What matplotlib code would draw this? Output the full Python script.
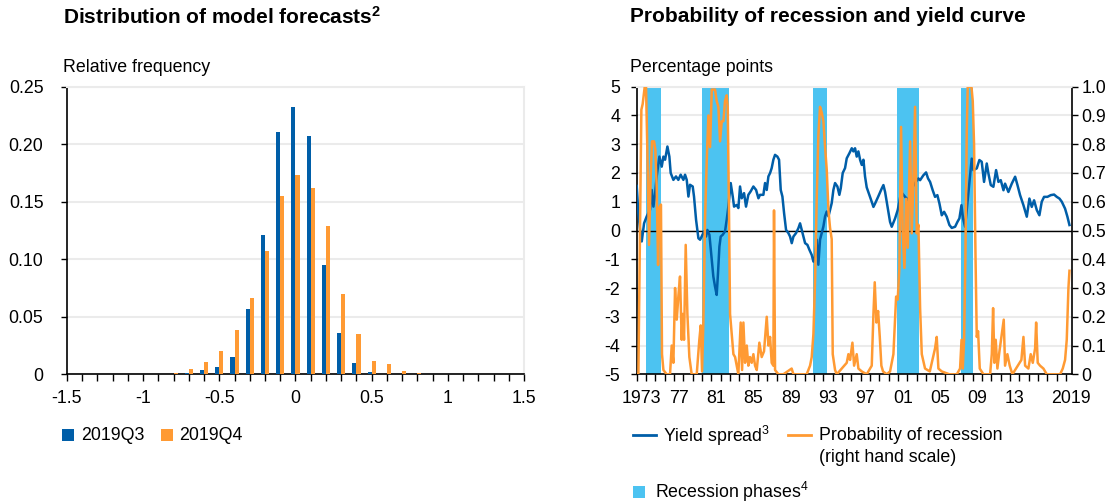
import matplotlib
matplotlib.use("Agg")
import matplotlib.pyplot as plt
from matplotlib.lines import Line2D
from matplotlib.patches import Rectangle
import numpy as np

plt.rcParams['font.family'] = ['Liberation Sans', 'DejaVu Sans']
plt.rcParams['mathtext.fontset'] = 'custom'
plt.rcParams['mathtext.rm'] = 'Liberation Sans'
plt.rcParams['mathtext.bf'] = 'Liberation Sans:bold'
plt.rcParams['mathtext.default'] = 'regular'

# ---- Left panel: distribution of model forecasts ----
forecast_bins = [-0.8, -0.7, -0.6, -0.5, -0.4, -0.3, -0.2, -0.1, 0.0,
                 0.1, 0.2, 0.3, 0.4, 0.5, 0.6, 0.7, 0.8]
freq_2019q3 = [0.0, 0.001, 0.004, 0.006, 0.015, 0.0565, 0.121, 0.211, 0.2326,
               0.207, 0.095, 0.0356, 0.0098, 0.0023, 0.0003, 0.0, 0.0]
freq_2019q4 = [0.0012, 0.0043, 0.011, 0.0206, 0.0388, 0.066, 0.107, 0.155, 0.173,
               0.162, 0.129, 0.070, 0.035, 0.0116, 0.0087, 0.0029, 0.001]
x_ticks_left = [-1.5, -1, -0.5, 0, 0.5, 1, 1.5]
x_labels_left = ['-1.5', '-1', '-0.5', '0', '0.5', '1', '1.5']
y_ticks_left = [0, 0.05, 0.10, 0.15, 0.20, 0.25]
y_labels_left = ['0', '0.05', '0.10', '0.15', '0.20', '0.25']

# ---- Right panel: yield spread and recession probability ----
spread_years = [
    1973.00, 1973.18, 1973.36, 1973.54, 1973.79, 1974.07, 1974.43, 1974.61, 1974.79, 1974.96,
    1975.14, 1975.43, 1975.68, 1975.86, 1976.04, 1976.29, 1976.50, 1976.64, 1976.93, 1977.21,
    1977.46, 1977.71, 1978.00, 1978.18, 1978.36, 1978.54, 1978.71, 1979.00, 1979.14, 1979.36,
    1979.61, 1979.79, 1979.96, 1980.21, 1980.43, 1980.57, 1980.79, 1981.04, 1981.21, 1981.39,
    1981.57, 1981.71, 1981.86, 1982.00, 1982.21, 1982.46, 1982.64, 1982.82, 1983.07, 1983.29,
    1983.43, 1983.71, 1983.89, 1984.07, 1984.25, 1984.50, 1984.71, 1984.96, 1985.21, 1985.50,
    1985.79, 1986.04, 1986.21, 1986.57, 1986.75, 1986.93, 1987.11, 1987.29, 1987.46, 1987.64,
    1987.82, 1988.07, 1988.25, 1988.43, 1988.61, 1988.79, 1989.00, 1989.25, 1989.43, 1989.61,
    1989.79, 1990.07, 1990.32, 1990.50, 1990.68, 1990.86, 1991.04, 1991.29, 1991.50, 1991.75,
    1991.93, 1992.11, 1992.29, 1992.46, 1992.64, 1992.82, 1993.00, 1993.18, 1993.36, 1993.54,
    1993.71, 1993.89, 1994.07, 1994.25, 1994.50, 1994.71, 1994.86, 1995.07, 1995.32, 1995.50,
    1995.79, 1996.04, 1996.21, 1996.39, 1996.57, 1996.75, 1996.93, 1997.11, 1997.29, 1997.46,
    1997.64, 1997.86, 1998.07, 1998.36, 1998.54, 1998.86, 1999.25, 1999.43, 1999.61, 1999.96,
    2000.14, 2000.32, 2000.68, 2000.96, 2001.14, 2001.32, 2001.75, 2002.11, 2002.30, 2002.70,
    2003.18, 2003.36, 2003.71, 2004.00, 2004.21, 2004.43, 2004.71, 2004.96, 2005.21, 2005.43,
    2005.68, 2005.93, 2006.21, 2006.50, 2006.75, 2007.11, 2007.36, 2007.57, 2007.79, 2007.96,
    2008.18, 2008.64, 2008.89, 2009.07, 2009.43, 2009.71, 2009.96, 2010.21, 2010.50, 2010.68,
    2010.93, 2011.21, 2011.50, 2011.75, 2012.00, 2012.29, 2012.46, 2012.82, 2013.18, 2013.54,
    2013.79, 2014.07, 2014.43, 2014.79, 2015.07, 2015.32, 2015.57, 2015.86, 2016.14, 2016.39,
    2016.64, 2017.00, 2017.36, 2017.71, 2018.00, 2018.29, 2018.54, 2018.89, 2019.14, 2019.36]
spread_values = [
    1.55, 0.60, 0.02, -0.38, 0.25, 0.49, 0.72, 1.41, 0.83, 1.24,
    1.88, 2.57, 2.22, 2.57, 2.46, 2.92, 2.57, 2.00, 1.76, 1.88,
    1.76, 1.94, 1.76, 1.94, 1.76, 1.18, 1.59, 1.53, 1.18, 0.37,
    -0.27, -0.32, -0.21, -0.03, -0.21, 0.02, -0.15, -1.02, -1.60, -1.95,
    -2.24, -1.48, -0.56, -0.21, -0.15, -0.03, 0.37, 0.83, 1.65, 1.18,
    0.83, 0.89, 0.78, 1.53, 1.12, 1.30, 0.83, 1.24, 1.36, 1.53,
    1.41, 1.12, 1.24, 1.24, 1.65, 1.41, 1.88, 2.00, 2.17, 2.46,
    2.63, 2.57, 2.46, 1.41, 1.18, 0.60, 0.02, -0.09, -0.21, -0.44,
    -0.21, -0.09, 0.08, 0.25, 0.02, -0.21, -0.44, -0.50, -0.67, -0.85,
    -1.08, -0.90, -0.32, -1.19, -0.32, -0.09, 0.14, 0.49, 0.66, 0.49,
    0.72, 0.95, 1.41, 1.65, 1.53, 1.24, 1.47, 2.00, 2.17, 2.51,
    2.69, 2.86, 2.75, 2.86, 2.57, 2.75, 2.46, 2.28, 2.46, 1.88,
    1.50, 1.30, 1.10, 0.82, 0.94, 1.17, 1.46, 1.58, 1.34, 0.65,
    0.30, 0.13, 0.42, 0.71, 1.00, 1.34, 1.17, 1.05, 1.34, 1.60,
    1.81, 1.75, 1.92, 2.02, 1.81, 1.69, 1.40, 1.17, 1.23, 0.94,
    0.53, 0.65, 0.48, 0.19, 0.09, 0.13, 0.30, 0.42, 0.88, 0.42,
    0.13, 1.69, 2.50, 2.10, 2.16, 2.45, 2.39, 1.69, 2.33, 1.98,
    1.58, 1.52, 2.10, 1.69, 1.75, 1.40, 1.63, 1.34, 1.63, 1.87,
    1.58, 1.23, 0.88, 0.48, 1.11, 0.82, 1.05, 0.71, 0.53, 1.00,
    1.17, 1.17, 1.23, 1.25, 1.17, 1.11, 1.00, 0.76, 0.48, 0.19]

prob_years = [
    1973.00, 1973.18, 1973.29, 1973.50, 1973.64, 1973.86, 1974.00, 1974.14, 1974.32, 1974.50,
    1974.64, 1974.86, 1975.00, 1975.14, 1975.29, 1975.43, 1975.60, 1975.71, 1975.86, 1976.21,
    1976.57, 1976.75, 1976.93, 1977.11, 1977.29, 1977.46, 1977.64, 1977.82, 1977.93, 1978.07,
    1978.25, 1978.43, 1978.64, 1978.89, 1979.43, 1979.71, 1979.86, 1980.00, 1980.14, 1980.32,
    1980.50, 1980.68, 1980.86, 1981.04, 1981.21, 1981.39, 1981.57, 1981.75, 1981.93, 1982.11,
    1982.29, 1982.46, 1982.64, 1982.75, 1982.89, 1983.00, 1983.10, 1983.36, 1983.54, 1983.71,
    1983.89, 1984.14, 1984.29, 1984.43, 1984.61, 1984.79, 1984.96, 1985.14, 1985.32, 1985.50,
    1985.68, 1985.86, 1986.14, 1986.39, 1986.64, 1986.93, 1987.11, 1987.29, 1987.46, 1987.64,
    1987.71, 1987.82, 1988.18, 1988.71, 1989.60, 1989.79, 1991.21, 1991.57, 1991.75, 1991.93,
    1992.11, 1992.29, 1992.46, 1992.64, 1992.82, 1993.00, 1993.18, 1993.36, 1993.54, 1993.71,
    1993.89, 1994.00, 1994.25, 1994.43, 1995.50, 1995.68, 1995.86, 1996.11, 1996.29, 1996.57,
    1996.75, 1997.11, 1997.64, 1998.18, 1998.36, 1998.50, 1998.68, 1998.86, 1999.04, 1999.21,
    1999.39, 1999.79, 2000.14, 2000.50, 2000.79, 2000.96, 2001.14, 2001.32, 2001.50, 2001.68,
    2001.86, 2002.04, 2002.29, 2002.46, 2002.64, 2002.82, 2003.00, 2003.18, 2003.36, 2003.54,
    2003.89, 2004.40, 2004.96, 2005.14, 2005.32, 2005.68, 2006.50, 2007.29, 2007.64, 2007.80,
    2007.93, 2008.07, 2008.21, 2008.36, 2008.46, 2008.64, 2008.86, 2009.00, 2009.14, 2009.30,
    2009.43, 2009.57, 2009.75, 2010.14, 2010.86, 2011.04, 2011.18, 2011.32, 2011.46, 2011.64,
    2011.86, 2012.11, 2012.32, 2012.46, 2012.71, 2012.96, 2013.25, 2014.21, 2014.43, 2014.61,
    2014.96, 2015.21, 2015.43, 2015.68, 2015.79, 2015.96, 2016.21, 2016.57, 2016.93, 2018.36,
    2018.64, 2018.89, 2019.07, 2019.25, 2019.36]
prob_values = [
    0.00, 0.00, 0.32, 0.92, 0.94, 1.00, 1.00, 0.78, 0.45, 0.69,
    0.81, 0.81, 0.78, 0.65, 0.38, 0.58, 0.59, 0.07, 0.015, 0.00,
    0.00, 0.10, 0.04, 0.30, 0.19, 0.27, 0.34, 0.12, 0.21, 0.12,
    0.45, 0.21, 0.06, 0.00, 0.00, 0.12, 0.17, 0.01, 0.18, 0.54,
    0.74, 0.90, 0.79, 0.99, 0.99, 0.99, 0.95, 0.93, 0.81, 0.88,
    0.88, 0.95, 0.97, 0.93, 0.56, 0.21, 0.17, 0.07, 0.06, 0.03,
    0.00, 0.18, 0.015, 0.18, 0.04, 0.10, 0.03, 0.06, 0.04, 0.07,
    0.03, 0.015, 0.11, 0.06, 0.08, 0.20, 0.10, 0.13, 0.04, 0.03,
    0.57, 0.015, 0.00, 0.00, 0.02, 0.00, 0.00, 0.03, 0.06, 0.14,
    0.33, 0.62, 0.83, 0.93, 0.91, 0.88, 0.79, 0.71, 0.57, 0.51,
    0.47, 0.07, 0.015, 0.00, 0.04, 0.07, 0.05, 0.11, 0.03, 0.07,
    0.02, 0.01, 0.00, 0.03, 0.21, 0.32, 0.18, 0.22, 0.13, 0.03,
    0.01, 0.00, 0.01, 0.07, 0.27, 0.26, 0.37, 0.86, 0.49, 0.37,
    0.61, 0.44, 0.81, 0.49, 0.67, 0.93, 0.49, 0.52, 0.23, 0.07,
    0.02, 0.01, 0.09, 0.13, 0.02, 0.01, 0.00, 0.00, 0.02, 0.12,
    0.02, 0.12, 0.40, 0.85, 1.00, 1.00, 1.00, 0.95, 0.80, 0.40,
    0.13, 0.15, 0.02, 0.00, 0.00, 0.07, 0.23, 0.04, 0.12, 0.02,
    0.08, 0.14, 0.19, 0.03, 0.07, 0.03, 0.00, 0.05, 0.13, 0.03,
    0.02, 0.07, 0.04, 0.09, 0.18, 0.04, 0.03, 0.02, 0.00, 0.00,
    0.02, 0.05, 0.12, 0.30, 0.36]

recession_starts = [1974.0, 1980.0, 1991.9, 2000.87, 2007.73]
recession_ends = [1975.55, 1982.87, 1993.43, 2003.25, 2009.0]

year_label_positions = [1973, 1977, 1981, 1985, 1989, 1993, 1997, 2001, 2005, 2009, 2013, 2019]
year_labels = ['1973', '77', '81', '85', '89', '93', '97', '01', '05', '09', '13', '2019']
spread_ticks = [-5, -4, -3, -2, -1, 0, 1, 2, 3, 4, 5]
prob_ticks = [0, 0.1, 0.2, 0.3, 0.4, 0.5, 0.6, 0.7, 0.8, 0.9, 1.0]
prob_tick_labels = ['0', '0.1', '0.2', '0.3', '0.4', '0.5', '0.6', '0.7', '0.8', '0.9', '1.0']

# ---- Styling ----
BLUE = '#005ea8'
ORANGE = '#ff9a33'
SKY = '#4cc3f1'
GRID = '#ebebeb'
TICK_FS = 12.8
TEXT_FS = 12.8
TITLE_FS = 15

W, H = 1118, 504
fig = plt.figure(figsize=(W / 100, H / 100), dpi=100)

def fx(px):
    return px / W

def fy(py):
    return 1 - py / H

top_px, bot_px = 86.7, 374.3

# Left panel
ax1 = fig.add_axes([fx(67), fy(bot_px), fx(524 - 67), (bot_px - top_px) / H])
bw = 0.027
xb = np.array(forecast_bins)
ax1.bar(xb - bw / 2, freq_2019q3, width=bw, color=BLUE, zorder=3, linewidth=0)
ax1.bar(xb + bw / 2, freq_2019q4, width=bw, color=ORANGE, zorder=3, linewidth=0)
ax1.set_xlim(-1.5, 1.5)
ax1.set_ylim(0, 0.25)
ax1.set_xticks(x_ticks_left)
ax1.set_xticklabels(x_labels_left)
ax1.set_xticks(np.arange(-1.5, 1.51, 0.1), minor=True)
ax1.set_yticks(y_ticks_left)
ax1.set_yticklabels(y_labels_left)
ax1.yaxis.grid(True, color=GRID, linewidth=1.5, zorder=0)
ax1.set_axisbelow(True)
for s in ['top', 'right']:
    ax1.spines[s].set_color(GRID)
    ax1.spines[s].set_linewidth(1.5)
for s in ['left', 'bottom']:
    ax1.spines[s].set_color('black')
    ax1.spines[s].set_linewidth(1.2)
ax1.tick_params(axis='x', which='both', length=5, width=1, direction='out',
                labelsize=TICK_FS, pad=6)
ax1.tick_params(axis='y', which='both', length=4, width=1, direction='out',
                labelsize=TICK_FS, pad=13)

# Right panel
ax2 = fig.add_axes([fx(636.7), fy(bot_px), fx(1071.7 - 636.7), (bot_px - top_px) / H])
for s0, s1 in zip(recession_starts, recession_ends):
    ax2.axvspan(s0, s1, color=SKY, linewidth=0, zorder=1)
ax2.axhline(0, color='black', linewidth=1.0, zorder=2)
ax2.plot(spread_years, spread_values, color=BLUE, linewidth=1.8, zorder=3,
         solid_joinstyle='round')
ax2.set_xlim(1973.0, 2019.6)
ax2.set_ylim(-5, 5)
ax2.set_yticks(spread_ticks)
ax2.set_yticklabels([str(v) for v in spread_ticks])
ax2.yaxis.grid(True, color=GRID, linewidth=1.5, zorder=0)
ax2.set_axisbelow(True)
ax2.set_xticks(np.arange(1973, 2020, 1))
ax2.set_xticklabels([])
ax2.set_xticks([y + 0.5 for y in year_label_positions], minor=True)
ax2.set_xticklabels(year_labels, minor=True)
ax2.tick_params(axis='x', which='major', length=5, width=1, direction='out')
ax2.tick_params(axis='x', which='minor', length=0, labelsize=TICK_FS, pad=11)
ax2.tick_params(axis='y', length=4, width=1, direction='out', labelsize=TICK_FS, pad=8)
ax2.spines['top'].set_color(GRID)
ax2.spines['top'].set_linewidth(1.5)
for s in ['left', 'bottom', 'right']:
    ax2.spines[s].set_color('black')
    ax2.spines[s].set_linewidth(1.2)

ax3 = ax2.twinx()
ax3.plot(prob_years, prob_values, color=ORANGE, linewidth=1.8, zorder=4,
         solid_joinstyle='round')
ax3.set_ylim(0, 1.0)
ax3.set_yticks(prob_ticks)
ax3.set_yticklabels(prob_tick_labels)
ax3.tick_params(axis='y', length=4, width=1, direction='out', labelsize=TICK_FS, pad=3)
for s in ax3.spines.values():
    s.set_visible(False)

# Titles and unit labels
fig.text(fx(63), fy(17), r'Distribution of model forecasts$^{2}$', fontsize=TITLE_FS,
         fontweight='bold', va='center', ha='left')
fig.text(fx(63), fy(68), 'Relative frequency', fontsize=TEXT_FS, va='center', ha='left')
fig.text(fx(630), fy(17), 'Probability of recession and yield curve', fontsize=TITLE_FS,
         fontweight='bold', va='center', ha='left')
fig.text(fx(630), fy(68), 'Percentage points', fontsize=TEXT_FS, va='center', ha='left')

# Legends
def square(x0, yc, color, size=12):
    fig.add_artist(Rectangle((fx(x0), fy(yc + size / 2)), size / W, size / H,
                             transform=fig.transFigure, color=color, linewidth=0))

def hline(x0, x1, yc, color):
    fig.add_artist(Line2D([fx(x0), fx(x1)], [fy(yc), fy(yc)], transform=fig.transFigure,
                          color=color, linewidth=2))

square(62, 435, BLUE)
fig.text(fx(81), fy(436), '2019Q3', fontsize=TEXT_FS, va='center', ha='left')
square(161, 435, ORANGE)
fig.text(fx(179), fy(436), '2019Q4', fontsize=TEXT_FS, va='center', ha='left')

hline(633, 656, 435, BLUE)
fig.text(fx(663), fy(436), r'Yield spread$^{3}$', fontsize=TEXT_FS, va='center', ha='left')
hline(788, 811, 435, ORANGE)
fig.text(fx(819), fy(436), 'Probability of recession', fontsize=TEXT_FS,
         va='center', ha='left')
fig.text(fx(819), fy(457), '(right hand scale)', fontsize=TEXT_FS, va='center', ha='left')
square(633, 491.5, SKY, size=12)
fig.text(fx(655), fy(492), r'Recession phases$^{4}$', fontsize=TEXT_FS, va='center', ha='left')

fig.savefig('out.png', dpi=100)
